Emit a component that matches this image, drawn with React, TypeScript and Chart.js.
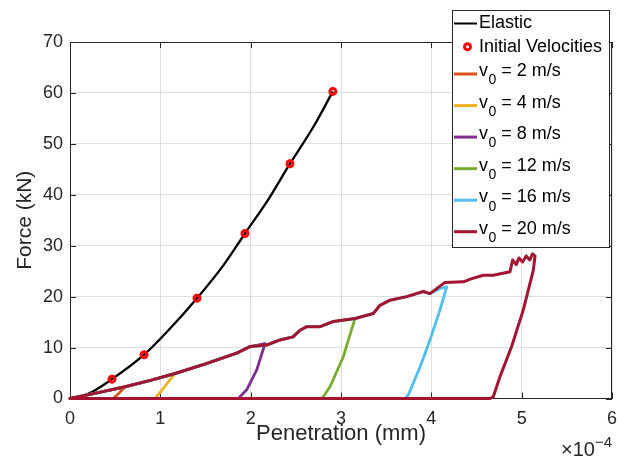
import React, { useEffect, useRef } from "react";
import { Chart, registerables } from "chart.js";

Chart.register(...registerables);

const FONT = "'Liberation Sans', Arial, Helvetica, sans-serif";
const AXIS_COLOR = "#262626";

// x values in units of 1e-4 mm, y in kN
const xTicks = [0, 1, 2, 3, 4, 5, 6];
const yTicks = [0, 10, 20, 30, 40, 50, 60, 70];

const elasticX = [0, 0.2, 0.465, 0.82, 1.1, 1.406, 1.7, 1.937, 2.2, 2.435, 2.7, 2.91];
const elasticY = [0, 0.9, 3.8, 8.6, 13.6, 19.7, 26.2, 32.4, 39.2, 46.1, 53.5, 60.3];

const markerX = [0.465, 0.82, 1.406, 1.937, 2.435, 2.91];
const markerY = [3.8, 8.6, 19.7, 32.4, 46.1, 60.3];

// shared loading path
const loadX = [0, 0.3, 0.609, 0.9, 1.162, 1.5, 1.845, 1.993, 2.178, 2.325, 2.469, 2.546, 2.62, 2.768, 2.911, 3.155, 3.358, 3.432, 3.543, 3.727, 3.911, 3.985, 4.151, 4.354, 4.44, 4.575, 4.686, 4.871, 4.9, 4.94, 4.97, 5.01, 5.05, 5.09, 5.12, 5.148];
const loadY = [0, 1.1, 2.3, 3.6, 4.9, 6.8, 8.9, 10.2, 10.5, 11.5, 12.1, 13.4, 14.1, 14.1, 15.1, 15.7, 16.7, 18.3, 19.3, 20.0, 21.0, 20.6, 22.8, 22.9, 23.5, 24.2, 24.2, 24.9, 27.2, 26.3, 27.6, 26.8, 28.0, 27.2, 28.4, 28.0];

// unloading branches
const u2X = [0.55, 0.479];
const u2Y = [1.2, 0];
const u4X = [1.06, 0.96, 0.94];
const u4Y = [2.6, 0.35, 0];
const u8X = [2.159, 2.067, 1.956, 1.863];
const u8Y = [10.8, 5.6, 1.7, 0];
const u12X = [3.09, 3.026, 2.878, 2.804, 2.78];
const u12Y = [12.0, 8.2, 2.3, 0.35, 0];
const u16X = [4.1, 4.17, 4.096, 3.985, 3.875, 3.745, 3.71];
const u16Y = [21.6, 21.9, 17.4, 11.5, 6.2, 0.7, 0];
const u20X = [5.129, 5.018, 4.889, 4.76, 4.686, 4.65];
const u20Y = [25.2, 17.4, 10.2, 4.3, 0.35, 0];

const velocities = ["2", "4", "8", "12", "16", "20"];
const peakIndex = [2, 4, 7, 15, 21, 35];
const unloadX = [u2X, u4X, u8X, u12X, u16X, u20X];
const unloadY = [u2Y, u4Y, u8Y, u12Y, u16Y, u20Y];
const colors = ["#D95319", "#EDB120", "#7E2F8E", "#77AC30", "#4DBEEE", "#A2142F"];

function buildPath(peak: number, ux: number[], uy: number[]) {
  const pts: { x: number; y: number }[] = [];
  for (let i = 0; i <= peak; i++) pts.push({ x: loadX[i], y: loadY[i] });
  ux.forEach((x, i) => pts.push({ x, y: uy[i] }));
  pts.push({ x: 0, y: 0 });
  return pts;
}

const decorPlugin = {
  id: "decor",
  beforeDatasetsDraw(chart: any) {
    const { ctx, chartArea: a, scales } = chart;
    ctx.save();
    ctx.strokeStyle = AXIS_COLOR;
    ctx.lineWidth = 1;
    const tl = 6;
    ctx.beginPath();
    xTicks.forEach((t) => {
      const px = Math.round(scales.x.getPixelForValue(t)) + 0.5;
      ctx.moveTo(px, a.bottom);
      ctx.lineTo(px, a.bottom - tl);
      ctx.moveTo(px, a.top);
      ctx.lineTo(px, a.top + tl);
    });
    yTicks.forEach((t) => {
      const py = Math.round(scales.y.getPixelForValue(t)) + 0.5;
      ctx.moveTo(a.left, py);
      ctx.lineTo(a.left + tl, py);
      ctx.moveTo(a.right, py);
      ctx.lineTo(a.right - tl, py);
    });
    ctx.moveTo(a.left, Math.round(a.top) + 0.5);
    ctx.lineTo(a.right, Math.round(a.top) + 0.5);
    ctx.moveTo(Math.round(a.right) - 0.5, a.top);
    ctx.lineTo(Math.round(a.right) - 0.5, a.bottom);
    ctx.stroke();
    ctx.restore();
  },
  afterDraw(chart: any) {
    const { ctx, chartArea: a } = chart;
    ctx.save();
    ctx.fillStyle = AXIS_COLOR;
    // axis titles
    ctx.textAlign = "center";
    ctx.textBaseline = "middle";
    ctx.font = `22px ${FONT}`;
    ctx.fillText("Penetration (mm)", (a.left + a.right) / 2, 434);
    ctx.save();
    ctx.font = `21px ${FONT}`;
    ctx.translate(25, (a.top + a.bottom) / 2);
    ctx.rotate(-Math.PI / 2);
    ctx.fillText("Force (kN)", 0, 0);
    ctx.restore();
    // exponent label
    ctx.textAlign = "left";
    ctx.textBaseline = "alphabetic";
    ctx.font = `15px ${FONT}`;
    const expW = ctx.measureText("\u22124").width;
    ctx.font = `20px ${FONT}`;
    const baseW = ctx.measureText("\u00d710").width;
    const right = a.right;
    ctx.fillText("\u00d710", right - expW - baseW, 456);
    ctx.font = `15px ${FONT}`;
    ctx.fillText("\u22124", right - expW, 447);

    // legend
    const lx = 452, ly = 10, lw = 157, lh = 237;
    ctx.fillStyle = "#ffffff";
    ctx.fillRect(lx, ly, lw, lh);
    ctx.strokeStyle = AXIS_COLOR;
    ctx.lineWidth = 1;
    ctx.strokeRect(lx + 0.5, ly + 0.5, lw, lh);
    const sx0 = 454, sx1 = 477, tx = 479;
    ctx.lineCap = "butt";
    // Elastic
    ctx.strokeStyle = "#000000";
    ctx.lineWidth = 2;
    ctx.beginPath();
    ctx.moveTo(sx0, 23.5);
    ctx.lineTo(sx1, 23.5);
    ctx.stroke();
    ctx.fillStyle = "#000000";
    ctx.font = `18px ${FONT}`;
    ctx.textBaseline = "middle";
    ctx.fillText("Elastic", tx, 23.5);
    // Initial velocities
    ctx.strokeStyle = "#ff0000";
    ctx.lineWidth = 3;
    ctx.beginPath();
    ctx.arc(467.5, 46.7, 3, 0, Math.PI * 2);
    ctx.stroke();
    ctx.fillText("Initial Velocities", tx, 46.7);
    const rows = [74, 105.6, 137.1, 168.7, 200.2, 231.7];
    rows.forEach((ry, i) => {
      ctx.strokeStyle = colors[i];
      ctx.lineWidth = 3;
      ctx.beginPath();
      ctx.moveTo(sx0, ry);
      ctx.lineTo(sx1, ry);
      ctx.stroke();
      ctx.fillStyle = "#000000";
      ctx.font = `18px ${FONT}`;
      ctx.fillText("v", tx, ry - 3);
      const vw = ctx.measureText("v").width;
      ctx.font = `14px ${FONT}`;
      ctx.fillText("0", tx + vw + 0.5, ry + 6.5);
      const zw = ctx.measureText("0").width;
      ctx.font = `18px ${FONT}`;
      ctx.fillText(` = ${velocities[i]} m/s`, tx + vw + 0.5 + zw, ry - 3);
    });
    ctx.restore();
  },
};

export default function App() {
  const ref = useRef<HTMLCanvasElement | null>(null);

  useEffect(() => {
    if (!ref.current) return;
    const datasets: any[] = [];
    datasets.push({
      label: "Elastic",
      data: elasticX.map((x, i) => ({ x, y: elasticY[i] })),
      showLine: true,
      borderColor: "#000000",
      borderWidth: 2.3,
      pointRadius: 0,
      tension: 0.4,
      cubicInterpolationMode: "monotone",
      order: 7,
      clip: false,
    });
    datasets.push({
      label: "Initial Velocities",
      data: markerX.map((x, i) => ({ x, y: markerY[i] })),
      showLine: false,
      pointRadius: 3,
      pointBorderWidth: 3,
      pointBorderColor: "#ff0000",
      pointBackgroundColor: "rgba(0,0,0,0)",
      order: 6,
      clip: false,
    });
    velocities.forEach((v, i) => {
      datasets.push({
        label: `v0 = ${v} m/s`,
        data: buildPath(peakIndex[i], unloadX[i], unloadY[i]),
        showLine: true,
        borderColor: colors[i],
        borderWidth: i === 5 ? 3 : 2.8,
        borderJoinStyle: "round",
        borderCapStyle: "round",
        pointRadius: 0,
        tension: 0,
        order: 5 - i,
        clip: false,
      });
    });

    const chart = new Chart(ref.current, {
      type: "scatter",
      data: { datasets },
      options: {
        animation: false,
        responsive: false,
        devicePixelRatio: 1,
        layout: { padding: { top: 42, right: 18, left: 0, bottom: 0 } },
        plugins: { legend: { display: false }, tooltip: { enabled: false } },
        scales: {
          x: {
            type: "linear",
            min: 0,
            max: 6,
            afterFit: (s: any) => {
              s.height = 60.5;
            },
            afterBuildTicks: (s: any) => {
              s.ticks = xTicks.map((v) => ({ value: v }));
            },
            ticks: {
              font: { family: FONT, size: 18 },
              color: AXIS_COLOR,
              padding: 10,
              maxRotation: 0,
              autoSkip: false,
            },
            grid: { color: "#dfdfdf", lineWidth: 1, drawTicks: false },
            border: { display: true, color: AXIS_COLOR, width: 1 },
          },
          y: {
            type: "linear",
            min: 0,
            max: 70,
            afterFit: (s: any) => {
              s.width = 70;
            },
            afterBuildTicks: (s: any) => {
              s.ticks = yTicks.map((v) => ({ value: v }));
            },
            ticks: {
              font: { family: FONT, size: 18 },
              color: AXIS_COLOR,
              padding: 7,
              autoSkip: false,
            },
            grid: { color: "#dfdfdf", lineWidth: 1, drawTicks: false },
            border: { display: true, color: AXIS_COLOR, width: 1 },
          },
        },
      },
      plugins: [decorPlugin],
    } as any);
    return () => chart.destroy();
  }, []);

  return (
    <div style={{ position: "fixed", left: 0, top: 0, width: 630, height: 459, background: "#fff" }}>
      <canvas ref={ref} width={630} height={459} style={{ display: "block", width: 630, height: 459 }} />
    </div>
  );
}
